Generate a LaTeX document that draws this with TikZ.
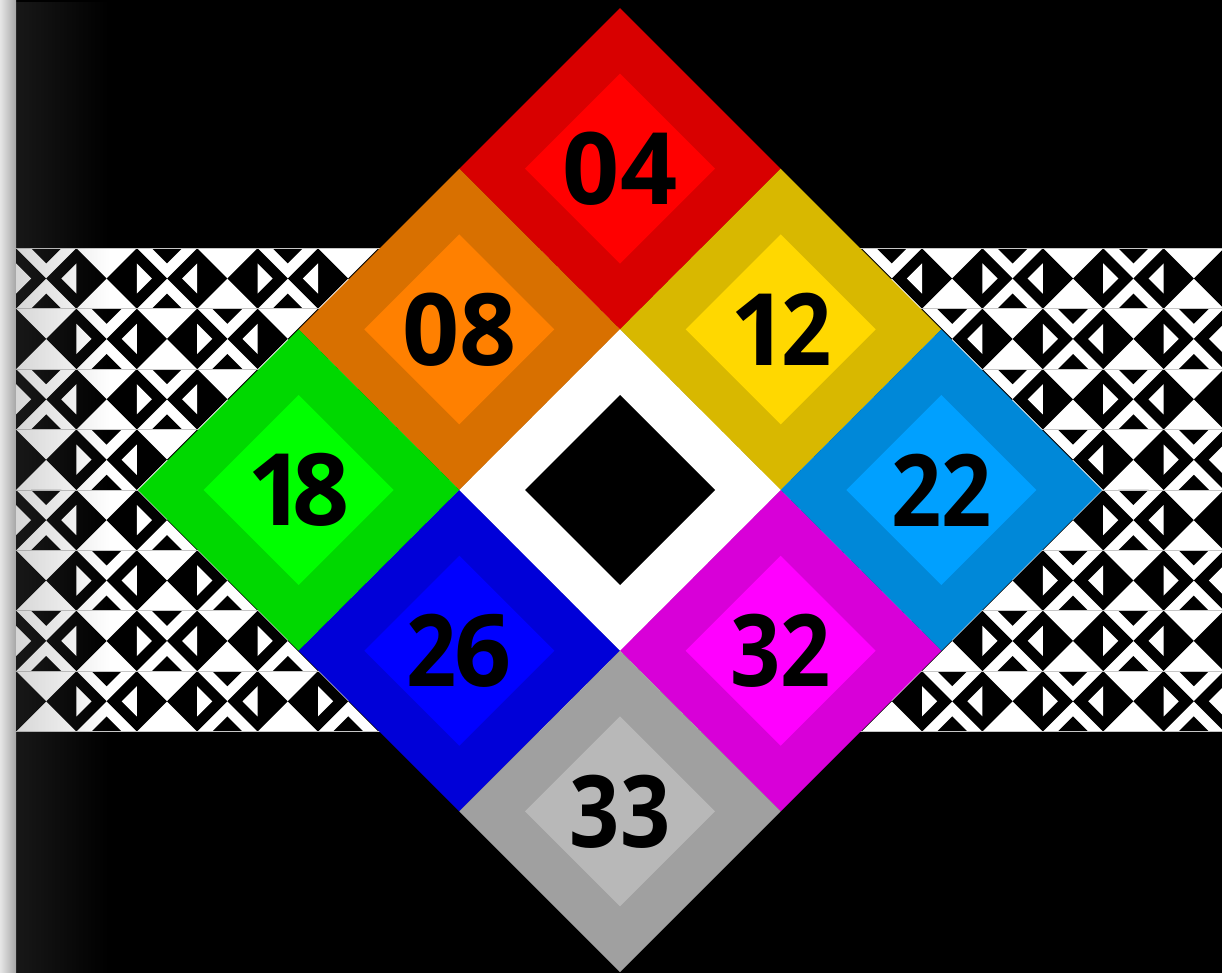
\documentclass[tikz,border=0pt]{standalone}
\usepackage{graphicx}
\usepackage{fontspec}
\newfontfamily\numfont{Open Sans}
\usetikzlibrary{shapes.geometric,fadings}
\definecolor{lt04}{HTML}{FF0000}
\definecolor{dk04}{HTML}{D80000}
\definecolor{lt08}{HTML}{FF8000}
\definecolor{dk08}{HTML}{D87000}
\definecolor{lt12}{HTML}{FFD800}
\definecolor{dk12}{HTML}{D8B800}
\definecolor{lt18}{HTML}{00FF00}
\definecolor{dk18}{HTML}{00D800}
\definecolor{lt22}{HTML}{00A0FF}
\definecolor{dk22}{HTML}{0088D8}
\definecolor{lt26}{HTML}{0000FF}
\definecolor{dk26}{HTML}{0000D8}
\definecolor{lt32}{HTML}{FF00FF}
\definecolor{dk32}{HTML}{D800D8}
\definecolor{lt33}{HTML}{B8B8B8}
\definecolor{dk33}{HTML}{A0A0A0}
\newcommand{\slim}[1]{\scalebox{0.88}[1]{#1}}

\begin{document}
\begin{tikzpicture}[
        x=1pt, y=-1pt,
        cellout/.style={
          diamond,
          minimum size=321.3pt,
          inner sep=0pt,
          outer sep=0pt
        },
        cellin/.style={
          diamond,
          minimum size=190pt,
          inner sep=0pt,
          outer sep=0pt
        },
        num/.style={
          inner sep=0pt,
          text=black,
          font=\numfont\bfseries\fontsize{100}{100}\selectfont
        },
        seam/.style={
          gray!45,
          line width=0.8pt
        }
      ]

      \useasboundingbox (0,0) rectangle (1222,973);
      \fill[black] (0,0) rectangle (1222,973);
      \shade[left color=gray!20, right color=gray!70] (0,0) rectangle (16,973);

      % tiled band
      \begin{scope}
        \clip (16,248.3) rectangle (1222,731.5);
        \fill[white] (16,248.3) rectangle (1222,731.5);
        \foreach \k in {0,...,20}
          \foreach \r in {0,...,7}
            \fill[black, shift={(16+\k*60.4,248.3+\r*60.4)}, scale=60.4]
              (-0.5,0.5) -- (0,0) -- (0.5,0.5) -- (0,1) -- cycle;
        \foreach \k in {0,...,19}
          \foreach \r in {0,...,7} {
            \pgfmathtruncatemacro{\cellpar}{mod(\k+\r,2)}
            \ifnum\cellpar=0
              \begin{scope}[shift={(16+\k*60.4,248.3+\r*60.4)}, scale=60.4]
                \fill[white] (0,0.25) -- (0.25,0.5) -- (0,0.75) -- cycle
                             (1,0.25) -- (0.75,0.5) -- (1,0.75) -- cycle;
                \fill[black] (0.25,0) -- (0.75,0) -- (0.5,0.25) -- cycle
                             (0.25,1) -- (0.75,1) -- (0.5,0.75) -- cycle;
              \end{scope}
            \fi
          }
      \end{scope}
      \foreach \r in {0,...,8}
        \draw[seam] (16,248.3+\r*60.4) -- (1222,248.3+\r*60.4);
      \fill[gray!75!black, fill opacity=0.25, path fading=east] (16,0) rectangle (110,973);

      % colour diamonds
      \foreach \i/\j/\lbl/\txt in {0/0/04/{04}, 0/1/08/{08}, 1/0/12/{1\kern-6pt\slim{2}},
                                  0/2/18/{1\kern-12pt 8}, 2/0/22/{\slim{2}\slim{2}},
                                  1/2/26/{\slim{2}\kern-2pt 6}, 2/1/32/{\slim{3}\slim{2}},
                                  2/2/33/{\slim{3}\slim{3}}} {
        \node[cellout, fill=dk\lbl] (c\lbl) at ({620+(\i-\j)*160.67},{168.67+(\i+\j)*160.67}) {};
        \node[cellin, fill=lt\lbl] (i\lbl) at (c\lbl) {};
        \node[num] (n\lbl) at (c\lbl) {\txt};
      }
      \node[cellout, fill=white] (ctr) at (620,490) {};
      \node[cellin, fill=black] (hole) at (ctr) {};

\end{tikzpicture}
\end{document}
